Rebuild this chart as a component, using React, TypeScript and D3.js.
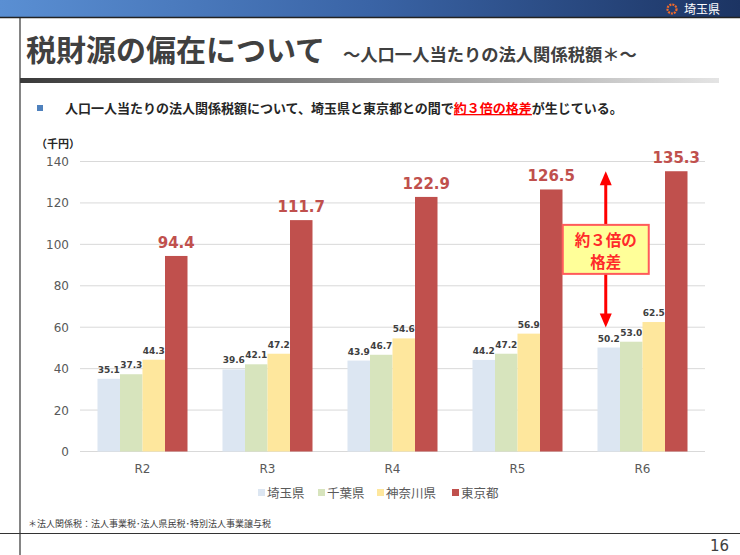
import React from "react";
import { scaleBand, scaleLinear } from "d3";

// data
const years = ["R2", "R3", "R4", "R5", "R6"];
const prefs = ["埼玉県", "千葉県", "神奈川県", "東京都"];
const saitama = [35.1, 39.6, 43.9, 44.2, 50.2];
const chiba = [37.3, 42.1, 46.7, 47.2, 53.0];
const kanagawa = [44.3, 47.2, 54.6, 56.9, 62.5];
const tokyo = [94.4, 111.7, 122.9, 126.5, 135.3];
const yTicks = [0, 20, 40, 60, 80, 100, 120, 140];
const colors = ["#dce6f2", "#d7e4bd", "#fee79d", "#c0504d"];

const series = [saitama, chiba, kanagawa, tokyo];

const jp = "'Noto Sans CJK JP', 'Noto Sans', sans-serif";
const num = "'DejaVu Sans', Verdana, sans-serif";

function App() {
  const W = 740;
  const H = 555;
  const plot = { left: 80, right: 705, top: 161.5, bottom: 451.5 };

  const x0 = scaleBand().domain(years).range([plot.left, plot.right]).paddingInner(0.28).paddingOuter(0.14);
  const x1 = scaleBand().domain(prefs).range([0, x0.bandwidth()]);
  const y = scaleLinear().domain([0, 140]).range([plot.bottom, plot.top]);

  // annotation arrow over the Saitama R6 bar
  const last = years.length - 1;
  const ax = (x0(years[last]) as number) + x1.bandwidth() / 2 - 3;
  const aTop = y(tokyo[last]);
  const aBot = y(saitama[last]) - 20;
  const boxW = 86;
  const boxH = 49;
  const boxY = (aTop + aBot) / 2 - boxH / 2;

  const legendX = [258, 318, 377, 452];

  return (
    <svg width={W} height={H} style={{ position: "absolute", left: 0, top: 0 }}>
      <defs>
        <linearGradient id="hdr" x1="0" x2="1" y1="0" y2="0">
          <stop offset="0" stopColor="#5a8fd3" />
          <stop offset="0.5" stopColor="#3a64a6" />
          <stop offset="1" stopColor="#1c3463" />
        </linearGradient>
        <linearGradient id="rule" x1="0" x2="1" y1="0" y2="0">
          <stop offset="0" stopColor="#3a3a3a" />
          <stop offset="1" stopColor="#e4e4e4" />
        </linearGradient>
      </defs>
      <rect width={W} height={H} fill="#fff" />

      {/* header */}
      <rect x={0} y={0} width={W} height={17} fill="url(#hdr)" />
      <line x1={0} x2={W} y1={17.5} y2={17.5} stroke="#222" strokeWidth={1.5} />
      <circle cx={672} cy={9} r={4.5} fill="none" stroke="#f26b2a" strokeWidth={2.2} strokeDasharray="2 1" />
      <text x={684} y={13.5} fill="#fff" fontFamily={jp} fontSize={12}>埼玉県</text>
      <line x1={20} x2={20} y1={18} y2={H} stroke="#333" strokeWidth={1.2} />

      {/* title */}
      <text x={26} y={61} fill="#404040" fontFamily={jp} fontSize={30} fontWeight="bold">
        税財源の偏在について
      </text>
      <text x={343} y={61} fill="#404040" fontFamily={jp} fontSize={17.3} fontWeight="bold">
        ～人口一人当たりの法人関係税額＊～
      </text>
      <rect x={20} y={78} width={699} height={5} fill="url(#rule)" />

      {/* bullet */}
      <rect x={37} y={105} width={6} height={6} fill="#4f81bd" />
      <text x={65} y={113} fill="#262626" fontFamily={jp} fontSize={13} fontWeight="bold">
        人口一人当たりの法人関係税額について、埼玉県と東京都との間で
        <tspan fill="#ff0000" textDecoration="underline">約３倍の格差</tspan>
        が生じている。
      </text>

      {/* axis unit */}
      <text x={36} y={148} fill="#262626" fontFamily={jp} fontSize={11} fontWeight="bold">（千円）</text>

      {/* grid + y ticks */}
      {yTicks.map((t) => (
        <g key={t}>
          <line x1={plot.left} x2={plot.right} y1={y(t)} y2={y(t)} stroke="#d9d9d9" strokeWidth={1} />
          <text x={69} y={y(t) + 4.5} textAnchor="end" fill="#595959" fontFamily={num} fontSize={12}>
            {t}
          </text>
        </g>
      ))}

      {/* bars */}
      {years.map((yr, i) => (
        <g key={yr} transform={`translate(${x0(yr)},0)`}>
          {prefs.map((p, j) => {
            const v = series[j][i];
            const bx = x1(p) as number;
            const isTokyo = j === 3;
            return (
              <g key={p}>
                <rect x={bx} y={y(v)} width={x1.bandwidth()} height={y(0) - y(v)} fill={colors[j]} />
                <text
                  x={bx + x1.bandwidth() / 2}
                  y={y(v) - (isTokyo ? 8 : 6)}
                  textAnchor="middle"
                  fill={isTokyo ? "#c0504d" : "#404040"}
                  fontFamily={num}
                  fontWeight="bold"
                  fontSize={isTokyo ? 15 : 9}
                >
                  {v.toFixed(1)}
                </text>
              </g>
            );
          })}
          <text
            x={x0.bandwidth() / 2}
            y={473}
            textAnchor="middle"
            fill="#595959"
            fontFamily={num}
            fontSize={12}
          >
            {yr}
          </text>
        </g>
      ))}

      {/* annotation */}
      <line x1={ax} x2={ax} y1={aTop + 12} y2={aBot - 12} stroke="#ff0000" strokeWidth={3} />
      <path d={`M${ax},${aTop} L${ax - 6},${aTop + 14} L${ax + 6},${aTop + 14} Z`} fill="#ff0000" />
      <path d={`M${ax},${aBot} L${ax - 6},${aBot - 14} L${ax + 6},${aBot - 14} Z`} fill="#ff0000" />
      <rect x={ax - boxW / 2} y={boxY} width={boxW} height={boxH} fill="#ffff99" stroke="#ff5b5b" strokeWidth={2} />
      <text x={ax} y={boxY + 21} textAnchor="middle" fill="#ff2a2a" fontFamily={jp} fontSize={15.5} fontWeight="bold">
        約３倍の
      </text>
      <text x={ax} y={boxY + 43.5} textAnchor="middle" fill="#ff2a2a" fontFamily={jp} fontSize={15.5} fontWeight="bold">
        格差
      </text>

      {/* legend */}
      {prefs.map((p, j) => (
        <g key={p}>
          <rect x={legendX[j]} y={489} width={7} height={7} fill={colors[j]} />
          <text x={legendX[j] + 9} y={497.5} fill="#595959" fontFamily={jp} fontSize={12.5}>
            {p}
          </text>
        </g>
      ))}

      {/* footnote */}
      <text x={28} y={527} fill="#404040" fontFamily={jp} fontSize={9}>
        ＊法人関係税：法人事業税･法人県民税･特別法人事業譲与税
      </text>
      <line x1={0} x2={W} y1={533.5} y2={533.5} stroke="#333" strokeWidth={1.2} />
      <text x={729} y={551} textAnchor="end" fill="#404040" fontFamily={num} fontSize={15}>16</text>
    </svg>
  );
}

export default App;
